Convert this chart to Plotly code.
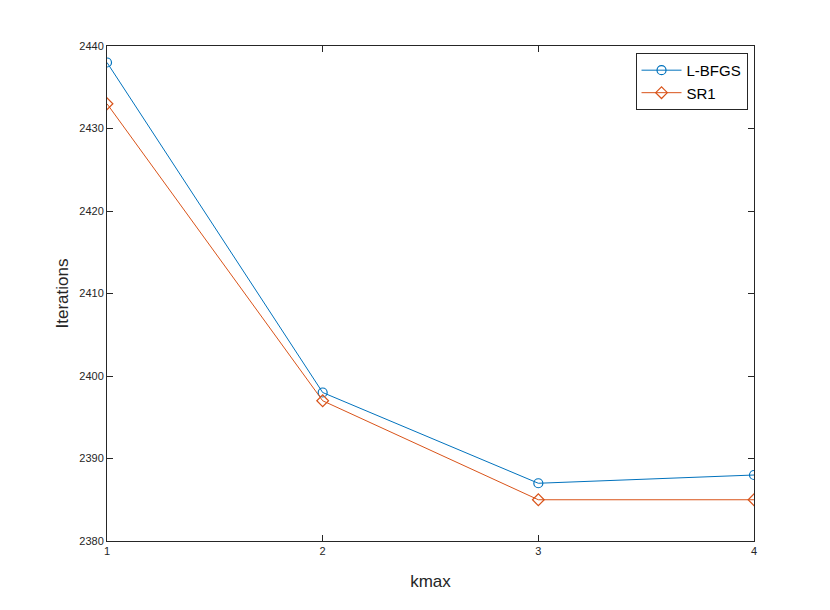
import plotly.graph_objects as go

kmax = [1, 2, 3, 4]
lbfgs_iters = [2438, 2398, 2387, 2388]
sr1_iters = [2433, 2397, 2385, 2385]

BLUE = "#0072BD"
ORANGE = "#D95319"
AXIS = "#262626"
FONT = "Liberation Sans, Arial, sans-serif"

fig = go.Figure()
fig.add_trace(go.Scatter(
    x=kmax, y=lbfgs_iters, mode="lines+markers", name="L-BFGS",
    line={"color": BLUE, "width": 1},
    marker={"symbol": "circle-open", "size": 9, "color": BLUE, "line": {"width": 1.2}},
))
fig.add_trace(go.Scatter(
    x=kmax, y=sr1_iters, mode="lines+markers", name="SR1",
    line={"color": ORANGE, "width": 1},
    marker={"symbol": "diamond-open", "size": 9, "color": ORANGE, "line": {"width": 1.2}},
))

axis_common = dict(
    showline=True, linecolor=AXIS, linewidth=1, mirror="ticks",
    ticks="inside", ticklen=6, tickcolor=AXIS, showgrid=False, zeroline=False,
    tickfont={"family": FONT, "size": 11, "color": AXIS},
)

fig.update_xaxes(
    range=[1, 4], tickvals=kmax,
    title={"text": "kmax", "standoff": 18, "font": {"family": FONT, "size": 17, "color": AXIS}},
    **axis_common,
)
fig.update_yaxes(
    range=[2380, 2440], tickvals=[2380, 2390, 2400, 2410, 2420, 2430, 2440],
    title={"text": "Iterations", "standoff": 6, "font": {"family": FONT, "size": 17, "color": AXIS}},
    **axis_common,
)

fig.update_layout(
    width=830, height=610,
    margin={"l": 99, "r": 84, "t": 38, "b": 77},
    plot_bgcolor="white", paper_bgcolor="white",
    legend={
        "x": 0.99, "y": 0.986, "xanchor": "right", "yanchor": "top",
        "bgcolor": "white", "bordercolor": AXIS, "borderwidth": 1,
        "font": {"family": FONT, "size": 15, "color": "black"},
        "itemwidth": 40, "tracegroupgap": 0,
    },
)

fig.write_html("out.html")
